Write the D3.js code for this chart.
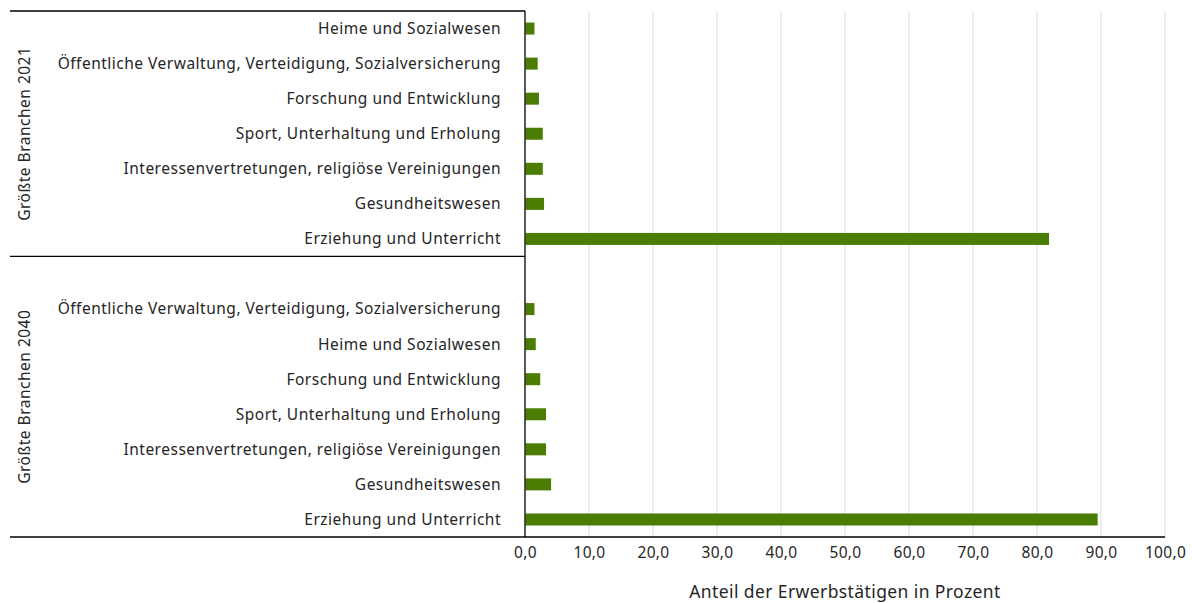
<!DOCTYPE html>
<html>
<head>
<meta charset="utf-8">
<script src="https://cdn.jsdelivr.net/npm/d3@7"></script>
<style>
  body { margin: 0; background: #fff; }
  text { font-family: "Noto Sans", sans-serif; fill: #262626; }
</style>
</head>
<body>
<script>
  // categories and values, top to bottom as drawn
  const groups = ["Größte Branchen 2021", "Größte Branchen 2040"];
  const cats2021 = [
    "Heime und Sozialwesen",
    "Öffentliche Verwaltung, Verteidigung, Sozialversicherung",
    "Forschung und Entwicklung",
    "Sport, Unterhaltung und Erholung",
    "Interessenvertretungen, religiöse Vereinigungen",
    "Gesundheitswesen",
    "Erziehung und Unterricht"
  ];
  const vals2021 = [1.4, 1.9, 2.1, 2.7, 2.7, 2.9, 81.8];
  const cats2040 = [
    "Öffentliche Verwaltung, Verteidigung, Sozialversicherung",
    "Heime und Sozialwesen",
    "Forschung und Entwicklung",
    "Sport, Unterhaltung und Erholung",
    "Interessenvertretungen, religiöse Vereinigungen",
    "Gesundheitswesen",
    "Erziehung und Unterricht"
  ];
  const vals2040 = [1.4, 1.6, 2.3, 3.2, 3.2, 4.0, 89.4];
  const xTicks = [0, 10, 20, 30, 40, 50, 60, 70, 80, 90, 100];
  const xTitle = "Anteil der Erwerbstätigen in Prozent";

  (function() {
    const width = 1192, height = 603;
    const pLeft = 525, pRight = 1165, pTop = 11, pBottom = 537;

    // rows: group 2021, then an empty slot, then group 2040
    let rows = [];
    cats2021.forEach((c, i) => rows.push({ key: "a" + i, label: c, value: vals2021[i] }));
    rows.push({ key: "gap", label: "", value: null });
    cats2040.forEach((c, i) => rows.push({ key: "b" + i, label: c, value: vals2040[i] }));

    const svg = d3.select("body").append("svg")
      .attr("width", width)
      .attr("height", height);

    const x = d3.scaleLinear().domain([0, 100]).range([pLeft, pRight]);
    const y = d3.scaleBand().domain(rows.map(d => d.key)).range([pTop, pBottom]);

    // gridlines
    svg.append("g")
      .selectAll("line")
      .data(xTicks.slice(1))
      .enter()
      .append("line")
        .attr("x1", d => x(d))
        .attr("x2", d => x(d))
        .attr("y1", pTop)
        .attr("y2", pBottom)
        .attr("stroke", "#dcdcdc")
        .attr("stroke-width", 1);

    // bars
    const barH = 12;
    svg.append("g")
      .selectAll("rect")
      .data(rows.filter(d => d.value != null))
      .enter()
      .append("rect")
        .attr("x", x(0) + 0.5)
        .attr("y", d => y(d.key) + y.bandwidth() / 2 - barH / 2)
        .attr("width", d => x(d.value) - x(0))
        .attr("height", barH)
        .attr("fill", "#4a7d02");

    // category labels
    svg.append("g")
      .selectAll("text")
      .data(rows)
      .enter()
      .append("text")
        .attr("x", pLeft - 24)
        .attr("y", d => y(d.key) + y.bandwidth() / 2)
        .attr("dy", "0.35em")
        .attr("text-anchor", "end")
        .style("font-size", "15.5px")
        .style("letter-spacing", "0.5px")
        .text(d => d.label);

    // group separators and frame
    const sepY = y("gap");
    const lines = [
      [10, pTop, pLeft, pTop],
      [10, sepY, pLeft, sepY],
      [10, pBottom, pRight, pBottom],
      [pLeft, pTop, pLeft, pBottom]
    ];
    svg.append("g")
      .selectAll("line")
      .data(lines)
      .enter()
      .append("line")
        .attr("x1", d => d[0])
        .attr("y1", d => d[1])
        .attr("x2", d => d[2])
        .attr("y2", d => d[3])
        .attr("stroke", "#000")
        .attr("stroke-width", 1.3);

    // group labels (rotated)
    const groupSpans = [[pTop, sepY], [sepY, pBottom]];
    groups.forEach((g, i) => {
      const cy = (groupSpans[i][0] + groupSpans[i][1]) / 2;
      svg.append("text")
        .attr("transform", "translate(25," + cy + ")rotate(-90)")
        .attr("text-anchor", "middle")
        .attr("dy", "0.35em")
        .style("font-size", "15.5px")
        .style("letter-spacing", "0.5px")
        .text(g);
    });

    // x axis tick labels
    const fmt = d => d3.format(".1f")(d).replace(".", ",");
    const xAxis = d3.axisBottom(x).tickValues(xTicks).tickFormat(fmt).tickSize(0).tickPadding(10);
    const ax = svg.append("g")
      .attr("transform", "translate(0," + pBottom + ")")
      .call(xAxis);
    ax.select(".domain").remove();
    ax.selectAll("text")
      .style("font-size", "15.5px")
      .style("letter-spacing", "0.3px")
      .style("font-family", "'Noto Sans', sans-serif")
      .attr("fill", "#262626");

    svg.append("text")
      .attr("x", (pLeft + pRight) / 2)
      .attr("y", 592)
      .attr("dy", "0.35em")
      .attr("text-anchor", "middle")
      .style("font-size", "17.5px")
      .style("letter-spacing", "0.4px")
      .text(xTitle);
  })();
</script>
</body>
</html>
